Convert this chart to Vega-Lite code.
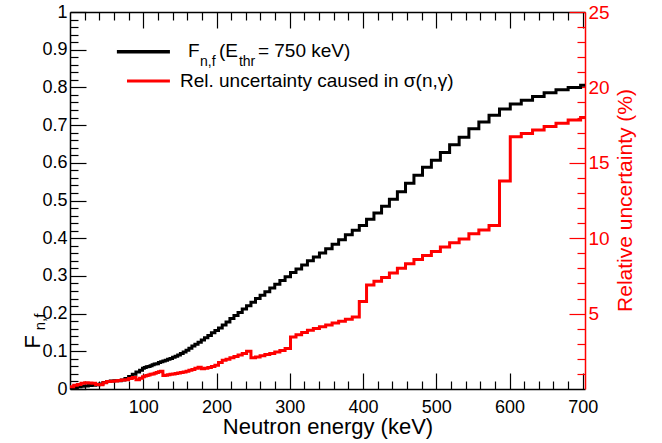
{
  "$schema": "https://vega.github.io/schema/vega-lite/v6.json",
  "width": 515,
  "height": 377,
  "autosize": {"type": "none"},
  "padding": {"left": 70, "top": 12, "right": 77, "bottom": 54},
  "background": "white",
  "config": {
    "view": {"stroke": null},
    "font": "Liberation Sans",
    "axis": {"grid": false, "labelFont": "Liberation Sans", "titleFont": "Liberation Sans", "titleFontWeight": "normal", "labelFlush": false, "labelOverlap": false}
  },
  "datasets": {
    "anchor": [{}],
    "black": [
      {"E": 0, "v": 0.002}, {"E": 5, "v": 0.004}, {"E": 10, "v": 0.006}, {"E": 15, "v": 0.007}, {"E": 20, "v": 0.008},
      {"E": 25, "v": 0.009}, {"E": 30, "v": 0.010}, {"E": 35, "v": 0.011}, {"E": 40, "v": 0.013}, {"E": 45, "v": 0.017},
      {"E": 50, "v": 0.020}, {"E": 55, "v": 0.021}, {"E": 60, "v": 0.022}, {"E": 65, "v": 0.022}, {"E": 70, "v": 0.024},
      {"E": 75, "v": 0.028}, {"E": 80, "v": 0.033}, {"E": 85, "v": 0.039}, {"E": 90, "v": 0.045}, {"E": 95, "v": 0.050},
      {"E": 99.0, "v": 0.055}, {"E": 101.5, "v": 0.057}, {"E": 104.1, "v": 0.059}, {"E": 106.7, "v": 0.060}, {"E": 109.3, "v": 0.062},
      {"E": 112.1, "v": 0.064}, {"E": 114.9, "v": 0.066}, {"E": 117.7, "v": 0.067}, {"E": 120.7, "v": 0.070}, {"E": 123.7, "v": 0.072},
      {"E": 126.8, "v": 0.074}, {"E": 130.0, "v": 0.076}, {"E": 133.2, "v": 0.079}, {"E": 136.5, "v": 0.081}, {"E": 140.0, "v": 0.084},
      {"E": 143.5, "v": 0.087}, {"E": 147.0, "v": 0.090}, {"E": 150.7, "v": 0.094}, {"E": 154.5, "v": 0.098}, {"E": 158.4, "v": 0.103},
      {"E": 162.3, "v": 0.108}, {"E": 166.4, "v": 0.114}, {"E": 170.5, "v": 0.119}, {"E": 174.8, "v": 0.124}, {"E": 179.2, "v": 0.130},
      {"E": 183.6, "v": 0.136}, {"E": 188.2, "v": 0.142}, {"E": 193.0, "v": 0.149}, {"E": 197.8, "v": 0.155}, {"E": 202.7, "v": 0.162},
      {"E": 207.8, "v": 0.170}, {"E": 213.0, "v": 0.178}, {"E": 218.3, "v": 0.187}, {"E": 223.8, "v": 0.195}, {"E": 229.4, "v": 0.203},
      {"E": 235.1, "v": 0.212}, {"E": 241.0, "v": 0.221}, {"E": 247.0, "v": 0.230}, {"E": 253.2, "v": 0.240}, {"E": 259.5, "v": 0.249},
      {"E": 266.0, "v": 0.258}, {"E": 272.7, "v": 0.268}, {"E": 279.5, "v": 0.278}, {"E": 286.5, "v": 0.288}, {"E": 293.6, "v": 0.298},
      {"E": 301.0, "v": 0.309}, {"E": 308.5, "v": 0.318}, {"E": 316.2, "v": 0.329}, {"E": 324.1, "v": 0.340}, {"E": 332.2, "v": 0.350},
      {"E": 340.5, "v": 0.361}, {"E": 349.0, "v": 0.372}, {"E": 357.8, "v": 0.384}, {"E": 366.7, "v": 0.396}, {"E": 375.9, "v": 0.409},
      {"E": 385.3, "v": 0.421}, {"E": 394.9, "v": 0.434}, {"E": 404.8, "v": 0.450}, {"E": 414.9, "v": 0.467}, {"E": 425.3, "v": 0.485},
      {"E": 436.0, "v": 0.503}, {"E": 446.9, "v": 0.523}, {"E": 458.0, "v": 0.546}, {"E": 469.5, "v": 0.567}, {"E": 481.2, "v": 0.588},
      {"E": 493.3, "v": 0.607}, {"E": 505.6, "v": 0.627}, {"E": 518.2, "v": 0.648}, {"E": 531.2, "v": 0.668}, {"E": 544.5, "v": 0.690},
      {"E": 558.1, "v": 0.708}, {"E": 572.0, "v": 0.726}, {"E": 586.3, "v": 0.743}, {"E": 601.0, "v": 0.756}, {"E": 616.0, "v": 0.766},
      {"E": 631.4, "v": 0.776}, {"E": 647.2, "v": 0.786}, {"E": 663.4, "v": 0.794}, {"E": 680.0, "v": 0.800}, {"E": 697.0, "v": 0.806},
      {"E": 703, "v": 0.806}
    ],
    "red": [
      {"E": 0, "v": 0.15}, {"E": 5, "v": 0.25}, {"E": 10, "v": 0.3}, {"E": 15, "v": 0.38}, {"E": 20, "v": 0.42},
      {"E": 25, "v": 0.4}, {"E": 30, "v": 0.38}, {"E": 35, "v": 0.3}, {"E": 40, "v": 0.28}, {"E": 45, "v": 0.42},
      {"E": 50, "v": 0.5}, {"E": 55, "v": 0.52}, {"E": 60, "v": 0.53}, {"E": 65, "v": 0.56}, {"E": 70, "v": 0.6},
      {"E": 75, "v": 0.62}, {"E": 80, "v": 0.7}, {"E": 85, "v": 0.77}, {"E": 90, "v": 0.62}, {"E": 95, "v": 0.72},
      {"E": 99.0, "v": 0.82}, {"E": 101.5, "v": 0.86}, {"E": 104.1, "v": 0.9}, {"E": 106.7, "v": 0.93}, {"E": 109.3, "v": 0.97},
      {"E": 112.1, "v": 1.0}, {"E": 114.9, "v": 1.05}, {"E": 117.7, "v": 1.1}, {"E": 120.7, "v": 1.15}, {"E": 123.7, "v": 1.18},
      {"E": 126.8, "v": 0.9}, {"E": 130.0, "v": 0.92}, {"E": 133.2, "v": 0.95}, {"E": 136.5, "v": 0.98}, {"E": 140.0, "v": 1.0},
      {"E": 143.5, "v": 1.03}, {"E": 147.0, "v": 1.06}, {"E": 150.7, "v": 1.1}, {"E": 154.5, "v": 1.13}, {"E": 158.4, "v": 1.18},
      {"E": 162.3, "v": 1.24}, {"E": 166.4, "v": 1.3}, {"E": 170.5, "v": 1.38}, {"E": 174.8, "v": 1.45}, {"E": 179.2, "v": 1.35},
      {"E": 183.6, "v": 1.38}, {"E": 188.2, "v": 1.42}, {"E": 193.0, "v": 1.5}, {"E": 197.8, "v": 1.58}, {"E": 202.7, "v": 1.75},
      {"E": 207.8, "v": 1.9}, {"E": 213.0, "v": 1.98}, {"E": 218.3, "v": 2.07}, {"E": 223.8, "v": 2.15}, {"E": 229.4, "v": 2.25},
      {"E": 235.1, "v": 2.35}, {"E": 241.0, "v": 2.5}, {"E": 247.0, "v": 2.08}, {"E": 253.2, "v": 2.12}, {"E": 259.5, "v": 2.2},
      {"E": 266.0, "v": 2.28}, {"E": 272.7, "v": 2.35}, {"E": 279.5, "v": 2.45}, {"E": 286.5, "v": 2.55}, {"E": 293.6, "v": 2.68},
      {"E": 301.0, "v": 3.45}, {"E": 308.5, "v": 3.6}, {"E": 316.2, "v": 3.75}, {"E": 324.1, "v": 3.9}, {"E": 332.2, "v": 4.02},
      {"E": 340.5, "v": 4.12}, {"E": 349.0, "v": 4.25}, {"E": 357.8, "v": 4.38}, {"E": 366.7, "v": 4.5}, {"E": 375.9, "v": 4.62},
      {"E": 385.3, "v": 4.78}, {"E": 394.9, "v": 5.8}, {"E": 404.8, "v": 6.9}, {"E": 414.9, "v": 7.15}, {"E": 425.3, "v": 7.4},
      {"E": 436.0, "v": 7.7}, {"E": 446.9, "v": 8.0}, {"E": 458.0, "v": 8.3}, {"E": 469.5, "v": 8.58}, {"E": 481.2, "v": 8.85},
      {"E": 493.3, "v": 9.12}, {"E": 505.6, "v": 9.42}, {"E": 518.2, "v": 9.7}, {"E": 531.2, "v": 9.95}, {"E": 544.5, "v": 10.3},
      {"E": 558.1, "v": 10.55}, {"E": 572.0, "v": 10.85}, {"E": 586.3, "v": 13.8}, {"E": 601.0, "v": 16.73}, {"E": 616.0, "v": 16.95},
      {"E": 631.4, "v": 17.17}, {"E": 647.2, "v": 17.4}, {"E": 663.4, "v": 17.62}, {"E": 680.0, "v": 17.84}, {"E": 697.0, "v": 18.0},
      {"E": 703, "v": 18.0}
    ]
  },
  "layer": [
    {
      "data": {"name": "black"},
      "mark": {"type": "line", "interpolate": "step-after", "color": "black", "strokeWidth": 3, "clip": true},
      "encoding": {
        "x": {"field": "E", "type": "quantitative", "scale": {"domain": [0, 703], "nice": false},
          "axis": {"orient": "bottom", "values": [100, 200, 300, 400, 500, 600, 700], "tickSize": -16, "tickWidth": 1.2, "tickColor": "black",
            "domainColor": "black", "domainWidth": 1.5, "labelFontSize": 18, "labelColor": "black", "labelPadding": 25,
            "title": "Neutron energy (keV)", "titleFontSize": 22, "titleColor": "black", "titleX": 257.5, "titleY": 44,
            "titleBaseline": "alphabetic", "titleAlign": "center"}},
        "y": {"field": "v", "type": "quantitative", "scale": {"domain": [0, 1], "nice": false},
          "axis": {"orient": "left", "values": [0, 0.1, 0.2, 0.3, 0.4, 0.5, 0.6, 0.7, 0.8, 0.9, 1], "format": "~g",
            "tickSize": -16, "tickWidth": 1.2, "tickColor": "black", "domainColor": "black", "domainWidth": 1.5, "labelFontSize": 18,
            "labelColor": "black", "labelPadding": 19, "title": null}}
      }
    },
    {
      "data": {"name": "red"},
      "mark": {"type": "line", "interpolate": "step-after", "color": "#ff0000", "strokeWidth": 3, "clip": true},
      "encoding": {
        "x": {"field": "E", "type": "quantitative", "scale": {"domain": [0, 703], "nice": false},
          "axis": {"orient": "top", "values": [100, 200, 300, 400, 500, 600, 700], "tickSize": -16, "tickWidth": 1.2, "tickColor": "black",
            "domainColor": "black", "domainWidth": 1.5, "labels": false, "title": null}},
        "y": {"field": "v", "type": "quantitative", "scale": {"domain": [0, 25], "nice": false},
          "axis": {"orient": "right", "values": [5, 10, 15, 20, 25], "tickSize": -16, "tickWidth": 1.2, "tickColor": "#ff0000",
            "domainColor": "#ff0000", "domainWidth": 1.5, "labelFontSize": 19, "labelColor": "#ff0000", "labelPadding": 19,
            "title": "Relative uncertainty (%)", "titleColor": "#ff0000", "titleFontSize": 21, "titleAngle": 270,
            "titleX": 40, "titleY": 188, "titleAlign": "center", "titleBaseline": "middle"}}
      }
    },
    {
      "data": {"name": "anchor"},
      "mark": {"type": "rule", "color": "black", "strokeWidth": 3.5},
      "encoding": {
        "x": {"datum": 64, "type": "quantitative", "scale": {"domain": [0, 703], "nice": false},
          "axis": {"orient": "bottom", "values": [20, 40, 60, 80, 120, 140, 160, 180, 220, 240, 260, 280, 320, 340, 360, 380, 420, 440, 460, 480, 520, 540, 560, 580, 620, 640, 660, 680],
            "tickSize": -8, "tickWidth": 1.2, "tickColor": "black", "labels": false, "domain": false, "title": null}},
        "x2": {"datum": 136.4},
        "y": {"datum": 0.8947, "type": "quantitative", "scale": {"domain": [0, 1], "nice": false},
          "axis": {"orient": "left", "values": [0.02, 0.04, 0.06, 0.08, 0.12, 0.14, 0.16, 0.18, 0.22, 0.24, 0.26, 0.28, 0.32, 0.34, 0.36, 0.38, 0.42, 0.44, 0.46, 0.48, 0.52, 0.54, 0.56, 0.58, 0.62, 0.64, 0.66, 0.68, 0.72, 0.74, 0.76, 0.78, 0.82, 0.84, 0.86, 0.88, 0.92, 0.94, 0.96, 0.98],
            "tickSize": -8, "tickWidth": 1.2, "tickColor": "black", "labels": false, "domain": false, "title": null}}
      }
    },
    {
      "data": {"name": "anchor"},
      "mark": {"type": "rule", "color": "#ff0000", "strokeWidth": 3},
      "encoding": {
        "x": {"datum": 77.8, "type": "quantitative", "scale": {"domain": [0, 703], "nice": false},
          "axis": {"orient": "top", "values": [20, 40, 60, 80, 120, 140, 160, 180, 220, 240, 260, 280, 320, 340, 360, 380, 420, 440, 460, 480, 520, 540, 560, 580, 620, 640, 660, 680],
            "tickSize": -8, "tickWidth": 1.2, "tickColor": "black", "labels": false, "domain": false, "title": null}},
        "x2": {"datum": 136.4},
        "y": {"datum": 20.42, "type": "quantitative", "scale": {"domain": [0, 25], "nice": false},
          "axis": {"orient": "right", "values": [1, 2, 3, 4, 6, 7, 8, 9, 11, 12, 13, 14, 16, 17, 18, 19, 21, 22, 23, 24],
            "tickSize": -8, "tickWidth": 1.2, "tickColor": "#ff0000", "labels": false, "domain": false, "title": null}}
      }
    },
    {
      "data": {"name": "anchor"},
      "mark": {"type": "text", "text": "F", "fontSize": 19, "align": "left", "baseline": "alphabetic", "color": "black", "font": "Liberation Sans"},
      "encoding": {
        "x": {"datum": 161, "type": "quantitative", "axis": null},
        "y": {"datum": 0.881, "type": "quantitative", "scale": {"domain": [0, 1], "nice": false}, "axis": null}
      }
    },
    {
      "data": {"name": "anchor"},
      "mark": {"type": "text", "text": "n,f", "fontSize": 14, "align": "left", "baseline": "alphabetic", "color": "black", "font": "Liberation Sans"},
      "encoding": {
        "x": {"datum": 177.4, "type": "quantitative", "axis": null},
        "y": {"datum": 0.857, "type": "quantitative", "scale": {"domain": [0, 1], "nice": false}, "axis": null}
      }
    },
    {
      "data": {"name": "anchor"},
      "mark": {"type": "text", "text": "(E", "fontSize": 19, "align": "left", "baseline": "alphabetic", "color": "black", "font": "Liberation Sans"},
      "encoding": {
        "x": {"datum": 203.3, "type": "quantitative", "axis": null},
        "y": {"datum": 0.881, "type": "quantitative", "scale": {"domain": [0, 1], "nice": false}, "axis": null}
      }
    },
    {
      "data": {"name": "anchor"},
      "mark": {"type": "text", "text": "thr", "fontSize": 14, "align": "left", "baseline": "alphabetic", "color": "black", "font": "Liberation Sans"},
      "encoding": {
        "x": {"datum": 230.6, "type": "quantitative", "axis": null},
        "y": {"datum": 0.857, "type": "quantitative", "scale": {"domain": [0, 1], "nice": false}, "axis": null}
      }
    },
    {
      "data": {"name": "anchor"},
      "mark": {"type": "text", "text": "= 750 keV)", "fontSize": 19, "align": "left", "baseline": "alphabetic", "color": "black", "font": "Liberation Sans"},
      "encoding": {
        "x": {"datum": 256.5, "type": "quantitative", "axis": null},
        "y": {"datum": 0.881, "type": "quantitative", "scale": {"domain": [0, 1], "nice": false}, "axis": null}
      }
    },
    {
      "data": {"name": "anchor"},
      "mark": {"type": "text", "text": "Rel. uncertainty caused in σ(n,γ)", "fontSize": 19, "align": "left", "baseline": "alphabetic", "color": "black", "font": "Liberation Sans"},
      "encoding": {
        "x": {"datum": 150.1, "type": "quantitative", "axis": null},
        "y": {"datum": 0.801, "type": "quantitative", "scale": {"domain": [0, 1], "nice": false}, "axis": null}
      }
    },
    {
      "data": {"name": "anchor"},
      "mark": {"type": "text", "text": "F", "fontSize": 22, "angle": 270, "align": "center", "baseline": "middle", "color": "black", "font": "Liberation Sans"},
      "encoding": {
        "x": {"datum": -50.5, "type": "quantitative", "axis": null},
        "y": {"datum": 0.125, "type": "quantitative", "scale": {"domain": [0, 1], "nice": false}, "axis": null}
      }
    },
    {
      "data": {"name": "anchor"},
      "mark": {"type": "text", "text": "n,f", "fontSize": 15, "angle": 270, "align": "center", "baseline": "middle", "color": "black", "font": "Liberation Sans"},
      "encoding": {
        "x": {"datum": -41, "type": "quantitative", "axis": null},
        "y": {"datum": 0.178, "type": "quantitative", "scale": {"domain": [0, 1], "nice": false}, "axis": null}
      }
    }
  ],
  "resolve": {"scale": {"y": "independent"}, "axis": {"x": "independent", "y": "independent"}}
}
